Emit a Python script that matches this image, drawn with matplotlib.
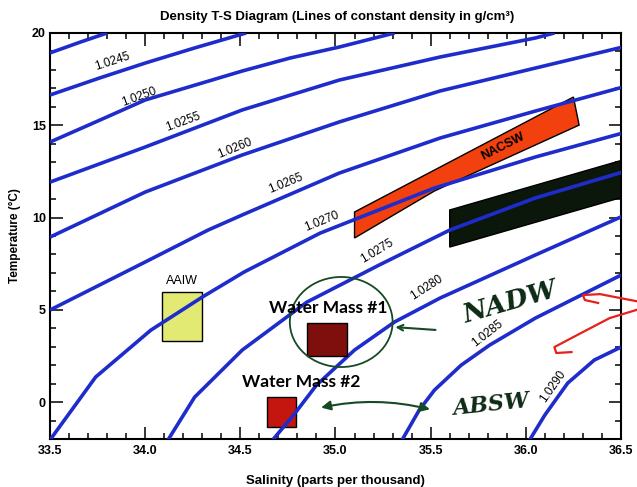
import numpy as np
import matplotlib
matplotlib.use("Agg")
import matplotlib.pyplot as plt
from matplotlib.patches import Polygon, Rectangle, Ellipse

# ---------------- data ----------------
levels = ['1.0240', '1.0245', '1.0250', '1.0255', '1.0260', '1.0265',
          '1.0270', '1.0275', '1.0280', '1.0285', '1.0290']

S_0240 = [33.50, 33.66, 33.80]
T_0240 = [18.92, 19.51, 20.00]
S_0245 = [33.50, 33.76, 34.00, 34.26, 34.53]
T_0245 = [16.64, 17.56, 18.37, 19.19, 20.00]
S_0250 = [33.50, 33.74, 34.00, 34.51, 34.76, 35.02, 35.31]
T_0250 = [14.09, 15.18, 16.37, 17.94, 18.64, 19.24, 20.00]
S_0255 = [33.50, 34.00, 34.51, 35.02, 35.55, 36.05, 36.15]
T_0255 = [11.92, 13.82, 15.83, 17.45, 18.70, 19.73, 20.00]
S_0260 = [33.50, 34.00, 34.51, 35.02, 35.55, 36.05, 36.51]
T_0260 = [8.94, 11.38, 13.39, 15.18, 16.86, 18.10, 19.24]
S_0265 = [33.50, 34.00, 34.33, 34.51, 35.02, 35.55, 36.05, 36.51]
T_0265 = [4.99, 7.59, 9.32, 10.14, 12.41, 14.31, 15.77, 17.07]
S_0270 = [33.50, 33.74, 34.03, 34.30, 34.52, 34.92, 35.52, 36.05, 36.51]
T_0270 = [-2.05, 1.36, 3.90, 5.69, 7.05, 9.16, 11.60, 13.28, 14.58]
S_0275 = [34.12, 34.26, 34.51, 34.85, 35.23, 35.60, 36.05, 36.51]
T_0275 = [-2.05, 0.27, 2.82, 5.42, 7.43, 9.32, 11.06, 12.47]
S_0280 = [34.67, 34.78, 34.90, 35.10, 35.31, 35.55, 36.05, 36.51]
T_0280 = [-2.05, -0.70, 0.92, 2.82, 4.34, 5.64, 7.97, 10.08]
S_0285 = [35.35, 35.44, 35.52, 35.66, 35.81, 36.05, 36.50]
T_0285 = [-2.05, -0.43, 0.65, 2.00, 3.09, 4.55, 6.88]
S_0290 = [36.02, 36.10, 36.22, 36.36, 36.50]
T_0290 = [-2.05, -0.70, 1.03, 2.28, 2.98]

curves_S = [S_0240, S_0245, S_0250, S_0255, S_0260, S_0265,
            S_0270, S_0275, S_0280, S_0285, S_0290]
curves_T = [T_0240, T_0245, T_0250, T_0255, T_0260, T_0265,
            T_0270, T_0275, T_0280, T_0285, T_0290]

# contour labels (the 1.0240 line carries none)
label_text = ['1.0245', '1.0250', '1.0255', '1.0260', '1.0265',
              '1.0270', '1.0275', '1.0280', '1.0285', '1.0290']
label_S = [33.83, 33.97, 34.20, 34.47, 34.74, 34.93, 35.22, 35.48, 35.80, 36.14]
label_T = [18.43, 16.53, 15.18, 13.77, 11.87, 9.81, 8.18, 6.18, 3.74, 0.87]
label_rot = [18, 20, 20, 22, 22, 22, 31, 33, 38, 55]

# water masses
nacsw_S = [35.10, 35.10, 36.25, 36.28, 35.52]
nacsw_T = [8.89, 10.30, 16.53, 15.01, 11.44]
nadw_S = [35.60, 35.60, 36.51, 36.51]
nadw_T = [8.40, 10.41, 13.12, 11.11]
aaiw_S = (34.09, 34.30)
aaiw_T = (3.30, 5.95)
wm1_S = (34.85, 35.06)
wm1_T = (2.49, 4.28)
wm2_S = (34.64, 34.79)
wm2_T = (-1.36, 0.27)

# hand-drawn marks
circle_S, circle_T, circle_w, circle_h = 35.03, 4.34, 0.54, 4.88
red1_S = [36.38, 36.31, 36.30, 36.39, 36.58]
red1_T = [5.37, 5.53, 5.80, 5.85, 5.47]
red2_S = [36.24, 36.16, 36.15, 36.26, 36.44, 36.58]
red2_T = [2.71, 2.66, 2.98, 3.58, 4.55, 4.99]

xticks = [33.5, 34.0, 34.5, 35.0, 35.5, 36.0, 36.5]
xticklabels = ['33.5', '34.0', '34.5', '35.0', '35.5', '36.0', '36.5']
yticks = [0, 5, 10, 15, 20]

# ---------------- drawing ----------------
plt.rcParams['font.family'] = ['Liberation Sans', 'DejaVu Sans']
fig = plt.figure(figsize=(6.37, 4.87), dpi=100)
ax = fig.add_axes([50/637, 1-439/487, 571/637, 406/487])
ax.set_xlim(33.5, 36.5)
ax.set_ylim(-2, 20)

blue = '#1f2ccc'
for s, t in zip(curves_S, curves_T):
    ax.plot(s, t, color=blue, lw=2.6, solid_capstyle='butt', zorder=3)

for txt, s, t, r in zip(label_text, label_S, label_T, label_rot):
    ax.text(s, t, txt, fontsize=8.5, rotation=r, ha='center', va='center',
            rotation_mode='anchor', zorder=6)

ax.add_patch(Polygon(list(zip(nacsw_S, nacsw_T)), closed=True,
                     facecolor='#f2400e', edgecolor='black', lw=1.0, zorder=2))
ax.text(35.88, 13.82, 'NACSW', fontsize=9, fontweight='bold', rotation=27,
        ha='center', va='center', rotation_mode='anchor', zorder=6)
ax.add_patch(Polygon(list(zip(nadw_S, nadw_T)), closed=True,
                     facecolor='#0c170c', edgecolor='black', lw=1.0, zorder=2))

ax.add_patch(Rectangle((aaiw_S[0], aaiw_T[0]), aaiw_S[1]-aaiw_S[0], aaiw_T[1]-aaiw_T[0],
                       facecolor='#e2ea74', edgecolor='black', lw=1.0, zorder=2))
ax.text(sum(aaiw_S)/2, aaiw_T[1]+0.6, 'AAIW', fontsize=9, ha='center', va='center', zorder=6)

ax.add_patch(Rectangle((wm1_S[0], wm1_T[0]), wm1_S[1]-wm1_S[0], wm1_T[1]-wm1_T[0],
                       facecolor='#7e0f0c', edgecolor='black', lw=1.0, zorder=4))
ax.add_patch(Rectangle((wm2_S[0], wm2_T[0]), wm2_S[1]-wm2_S[0], wm2_T[1]-wm2_T[0],
                       facecolor='#c4150e', edgecolor='black', lw=1.0, zorder=2))

ax.text(34.96, 5.1, 'Water Mass #1', fontsize=12.5, fontweight='bold', family='Lato',
        ha='center', va='center', zorder=7)
ax.text(34.82, 1.1, 'Water Mass #2', fontsize=12.5, fontweight='bold', family='Lato',
        ha='center', va='center', zorder=7)

green = '#154a24'
ax.add_patch(Ellipse((circle_S, circle_T), circle_w, circle_h, fill=False,
                     edgecolor=green, lw=1.3, zorder=5))
ax.annotate('', xy=(35.30, 4.07), xytext=(35.54, 3.90),
            arrowprops=dict(arrowstyle='->', color=green, lw=1.5), zorder=6)
ax.annotate('', xy=(34.91, -0.33), xytext=(35.51, -0.43),
            arrowprops=dict(arrowstyle='<|-|>', color=green, lw=1.5,
                            mutation_scale=14, connectionstyle='arc3,rad=0.12'),
            zorder=6)
ax.text(35.92, 5.4, 'NADW', fontsize=19, fontstyle='italic', fontweight='bold',
        color='#0c2a14', rotation=16, ha='center', va='center', family='DejaVu Serif')
ax.text(35.82, -0.15, 'ABSW', fontsize=16, fontstyle='italic', fontweight='bold',
        color='#0c2a14', rotation=6, ha='center', va='center', family='DejaVu Serif')

ax.plot(red1_S, red1_T, color='#e8201a', lw=1.6, clip_on=False, zorder=6)
ax.plot(red2_S, red2_T, color='#e8201a', lw=1.6, clip_on=False, zorder=6)

# axes styling
ax.set_xticks(xticks)
ax.set_xticklabels(xticklabels)
ax.set_xticks(np.arange(33.5, 36.51, 0.1), minor=True)
ax.set_yticks(yticks)
ax.set_yticks(np.arange(-2, 20.1, 1), minor=True)
ax.tick_params(which='both', direction='in', top=True, right=True, width=1.1)
ax.tick_params(which='major', length=9, labelsize=9, pad=4)
ax.tick_params(which='minor', length=4)
ax.tick_params(axis='y', pad=3)
for lab in ax.get_xticklabels() + ax.get_yticklabels():
    lab.set_fontweight('bold')
for sp in ax.spines.values():
    sp.set_linewidth(1.5)

ax.set_xlabel('Salinity (parts per thousand)', fontsize=9.5, fontweight='bold', labelpad=13)
ax.set_ylabel('Temperature (°C)', fontsize=8.5, fontweight='bold', labelpad=8)
fig.text(337/637, 1-17/487, 'Density T-S Diagram (Lines of constant density in g/cm³)',
         fontsize=9.5, fontweight='bold', ha='center', va='center')

fig.savefig('out.png', dpi=100)
